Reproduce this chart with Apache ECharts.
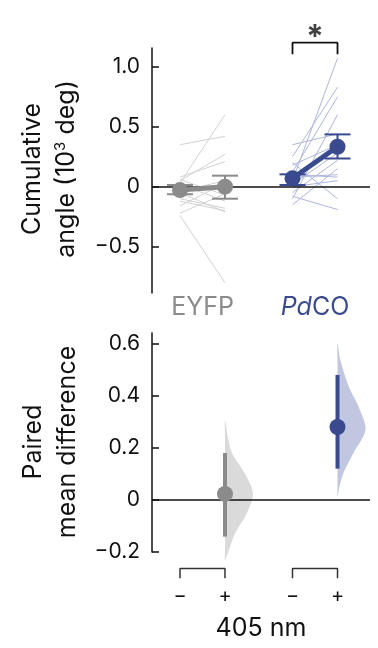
<!DOCTYPE html>
<html><head><meta charset="utf-8">
<script src="https://cdn.jsdelivr.net/npm/echarts@6/dist/echarts.min.js"></script>
<style>html,body{margin:0;padding:0;background:#fff}#c{width:378px;height:648px}</style>
</head><body><div id="c"></div>
<script>
// ---- data ----
const groups = ['EYFP', 'PdCO'];
const conditionLabels = ['\u2212', '+', '\u2212', '+'];
const conditionX = [0, 1, 2.5, 3.5];
const eyfpBefore = [0.35, 0.03, 0.05, 0.08, -0.22, 0.06, -0.04, 0.02, -0.10, -0.16, -0.05, -0.24, -0.12];
const eyfpAfter  = [0.42, 0.60, 0.27, 0.21, -0.06, -0.07, 0.05, -0.12, -0.18, 0.03, -0.21, -0.80, -0.20];
const pdcoBefore = [0.05, 0.25, 0.12, -0.10, 0.35, 0.18, -0.05, 0.02, 0.08, -0.15, 0.00, 0.20, -0.08, 0.10];
const pdcoAfter  = [1.07, 0.83, 0.75, 0.60, 0.44, 0.35, 0.22, 0.28, 0.10, 0.15, 0.05, -0.10, -0.19, 0.08];
const meanValues = [-0.028, 0.000, 0.070, 0.333];
const errLow     = [-0.063, -0.100, 0.014, 0.235];
const errHigh    = [0.014, 0.092, 0.103, 0.436];
const diffMean   = [0.023, 0.280];
const diffLow    = [-0.141, 0.120];
const diffHigh   = [0.180, 0.480];
const eyfpViolinY = [0.308, 0.243, 0.180, 0.103, 0.026, -0.051, -0.128, -0.205, -0.231];
const eyfpViolinD = [0, 0.10, 0.25, 0.70, 1.00, 0.78, 0.36, 0.10, 0];
const pdcoViolinY = [0.603, 0.538, 0.436, 0.359, 0.269, 0.180, 0.103, 0.051, 0.013];
const pdcoViolinD = [0, 0.10, 0.40, 0.75, 1.00, 0.57, 0.21, 0.07, 0];
const topTicks = [-0.5, 0, 0.5, 1.0];
const topTickLabels = ['\u22120.5', '0', '0.5', '1.0'];
const bottomTicks = [-0.2, 0, 0.2, 0.4, 0.6];
const bottomTickLabels = ['\u22120.2', '0', '0.2', '0.4', '0.6'];
const sigStar = '*';

// ---- style ----
const GRAY = '#8b8b8b', NAVY = '#3a4a8e';
const FAINT_GRAY = '#d2d2d2', FAINT_NAVY = '#aeb5db';
const VIOLIN_GRAY = '#dadada', VIOLIN_NAVY = '#c2c7e1';
const FONT = 'Inter';

const chart = echarts.init(document.getElementById('c'), null, {renderer: 'canvas'});

function pairSeries(before, after, x0, x1, color) {
  return {
    type: 'custom', xAxisIndex: 0, yAxisIndex: 0, silent: true, z: 1,
    data: before.map((b, i) => [b, after[i]]),
    renderItem: (params, api) => {
      const p0 = api.coord([x0, api.value(0)]);
      const p1 = api.coord([x1, api.value(1)]);
      return {type: 'line', shape: {x1: p0[0], y1: p0[1], x2: p1[0], y2: p1[1]},
        style: {stroke: color, lineWidth: 1}};
    }
  };
}

function errSeries(idx, color) {
  return {
    type: 'custom', xAxisIndex: 0, yAxisIndex: 0, silent: true, z: 4,
    data: idx.map(i => [conditionX[i], errLow[i], errHigh[i]]),
    renderItem: (params, api) => {
      const lo = api.coord([api.value(0), api.value(1)]);
      const hi = api.coord([api.value(0), api.value(2)]);
      const hw = 13;
      return {type: 'group', children: [
        {type: 'line', shape: {x1: lo[0], y1: lo[1], x2: hi[0], y2: hi[1]}, style: {stroke: color, lineWidth: 2}},
        {type: 'line', shape: {x1: lo[0]-hw, y1: lo[1], x2: lo[0]+hw, y2: lo[1]}, style: {stroke: color, lineWidth: 2}},
        {type: 'line', shape: {x1: hi[0]-hw, y1: hi[1], x2: hi[0]+hw, y2: hi[1]}, style: {stroke: color, lineWidth: 2}}
      ]};
    }
  };
}

function violinSeries(xc, ys, ds, color) {
  return {
    type: 'custom', xAxisIndex: 1, yAxisIndex: 1, silent: true, z: 1,
    data: ys.map((y, i) => [xc, y, ds[i]]),
    renderItem: (params, api) => {
      if (params.dataIndex !== 0) return null;
      const maxW = 28;
      const right = ys.map((y, i) => { const p = api.coord([xc, y]); return [p[0] + ds[i]*maxW, p[1]]; });
      const left = ys.slice().reverse().map(y => api.coord([xc, y]));
      return {type: 'polygon', shape: {points: right.concat(left.slice(1, -1)), smooth: 0.3},
        style: {fill: color}};
    }
  };
}

const zeroLine = {silent: true, symbol: 'none', label: {show: false},
  lineStyle: {color: '#111', width: 1.5, type: 'solid'}, data: [{yAxis: 0}]};

const option = {
  animation: false,
  backgroundColor: '#fff',
  grid: [
    {left: 152, top: 48, width: 218, height: 245},
    {left: 152, top: 333, width: 218, height: 219}
  ],
  xAxis: [
    {gridIndex: 0, type: 'value', min: -0.622, max: 4.222,
      axisLine: {show: false, onZero: false}, axisTick: {show: false}, splitLine: {show: false},
      axisLabel: {customValues: [0.5, 3.0], margin: 2,
        formatter: v => v < 2 ? '{g|' + groups[0] + '}' : '{i|Pd}{n|CO}',
        rich: {g: {color: GRAY, fontSize: 25, fontFamily: FONT},
               i: {color: NAVY, fontSize: 25, fontFamily: FONT, fontStyle: 'italic'},
               n: {color: NAVY, fontSize: 25, fontFamily: FONT}}}},
    {gridIndex: 1, type: 'value', min: -0.622, max: 4.222,
      axisLine: {show: false, onZero: false}, axisTick: {show: false}, splitLine: {show: false},
      axisLabel: {customValues: conditionX, margin: 34, color: '#111', fontSize: 20, fontFamily: FONT,
        formatter: v => conditionLabels[conditionX.indexOf(v)]},
      name: '405 nm', nameLocation: 'middle', nameGap: 64,
      nameTextStyle: {fontSize: 25, fontFamily: FONT, color: '#111'}}
  ],
  yAxis: [
    {gridIndex: 0, type: 'value', min: -0.886, max: 1.156,
      axisLine: {show: true, onZero: false, lineStyle: {color: '#111', width: 1.5}},
      axisTick: {show: true, inside: true, length: 7, customValues: topTicks, lineStyle: {color: '#111', width: 1.5}},
      axisLabel: {customValues: topTicks, margin: 12, color: '#111', fontSize: 21, fontFamily: FONT,
        formatter: v => topTickLabels[topTicks.indexOf(v)]},
      splitLine: {show: false}},
    {gridIndex: 1, type: 'value', min: -0.2, max: 0.641,
      axisLine: {show: true, onZero: false, lineStyle: {color: '#111', width: 1.5}},
      axisTick: {show: true, inside: true, length: 7, customValues: bottomTicks, lineStyle: {color: '#111', width: 1.5}},
      axisLabel: {customValues: bottomTicks, margin: 12, color: '#111', fontSize: 21, fontFamily: FONT,
        formatter: v => bottomTickLabels[bottomTicks.indexOf(v)]},
      splitLine: {show: false}}
  ],
  graphic: [
    {type: 'text', x: 32, y: 169, rotation: Math.PI/2,
      style: {text: 'Cumulative', fontSize: 25, fontFamily: FONT, fill: '#111', align: 'center', verticalAlign: 'middle'}},
    {type: 'text', x: 66, y: 169, rotation: Math.PI/2,
      style: {text: 'angle (10{s|3} deg)', fontSize: 25, fontFamily: FONT, fill: '#111', align: 'center', verticalAlign: 'middle',
        rich: {s: {fontSize: 15, fontFamily: FONT, fill: '#111', verticalAlign: 'top', padding: [0,0,12,0]}}}},
    {type: 'text', x: 33, y: 442, rotation: Math.PI/2,
      style: {text: 'Paired', fontSize: 25, fontFamily: FONT, fill: '#111', align: 'center', verticalAlign: 'middle'}},
    {type: 'text', x: 67, y: 442, rotation: Math.PI/2,
      style: {text: 'mean difference', fontSize: 25, fontFamily: FONT, fill: '#111', align: 'center', verticalAlign: 'middle'}}
  ],
  series: [
    pairSeries(eyfpBefore, eyfpAfter, conditionX[0], conditionX[1], FAINT_GRAY),
    pairSeries(pdcoBefore, pdcoAfter, conditionX[2], conditionX[3], FAINT_NAVY),
    {type: 'line', xAxisIndex: 0, yAxisIndex: 0, silent: true, z: 2, symbol: 'none',
      data: [], markLine: zeroLine},
    errSeries([0, 1], GRAY),
    errSeries([2, 3], NAVY),
    {type: 'line', xAxisIndex: 0, yAxisIndex: 0, silent: true, z: 5,
      data: [[conditionX[0], meanValues[0]], [conditionX[1], meanValues[1]]],
      symbol: 'circle', symbolSize: 16, itemStyle: {color: GRAY}, lineStyle: {color: GRAY, width: 5}},
    {type: 'line', xAxisIndex: 0, yAxisIndex: 0, silent: true, z: 5,
      data: [[conditionX[2], meanValues[2]], [conditionX[3], meanValues[3]]],
      symbol: 'circle', symbolSize: 16, itemStyle: {color: NAVY}, lineStyle: {color: NAVY, width: 5}},
    // significance bracket
    {type: 'line', xAxisIndex: 0, yAxisIndex: 0, silent: true, clip: false, symbol: 'none', z: 5,
      data: [[conditionX[2], 1.103], [conditionX[2], 1.200], [conditionX[3], 1.200], [conditionX[3], 1.103]],
      lineStyle: {color: '#111', width: 1.8}},
    {type: 'scatter', xAxisIndex: 0, yAxisIndex: 0, silent: true, clip: false, symbolSize: 1, z: 5,
      itemStyle: {color: 'rgba(0,0,0,0)'},
      data: [[(conditionX[2] + conditionX[3]) / 2, 1.24]],
      label: {show: true, position: 'inside', formatter: sigStar, fontSize: 32, fontFamily: FONT, color: '#111', fontWeight: 'bold'}},
    // bottom panel
    violinSeries(conditionX[1], eyfpViolinY, eyfpViolinD, VIOLIN_GRAY),
    violinSeries(conditionX[3], pdcoViolinY, pdcoViolinD, VIOLIN_NAVY),
    {type: 'line', xAxisIndex: 1, yAxisIndex: 1, silent: true, z: 2, symbol: 'none',
      data: [], markLine: zeroLine},
    {type: 'line', xAxisIndex: 1, yAxisIndex: 1, silent: true, z: 4, symbol: 'none',
      data: [[conditionX[1], diffLow[0]], [conditionX[1], diffHigh[0]]], lineStyle: {color: GRAY, width: 4}},
    {type: 'line', xAxisIndex: 1, yAxisIndex: 1, silent: true, z: 4, symbol: 'none',
      data: [[conditionX[3], diffLow[1]], [conditionX[3], diffHigh[1]]], lineStyle: {color: NAVY, width: 4}},
    {type: 'scatter', xAxisIndex: 1, yAxisIndex: 1, silent: true, z: 5, symbolSize: 16,
      itemStyle: {opacity: 1},
      data: [{value: [conditionX[1], diffMean[0]], itemStyle: {color: GRAY}},
             {value: [conditionX[3], diffMean[1]], itemStyle: {color: NAVY}}]},
    // pairing brackets under bottom panel
    {type: 'line', xAxisIndex: 1, yAxisIndex: 1, silent: true, clip: false, symbol: 'none',
      data: [[conditionX[0], -0.301], [conditionX[0], -0.263], [conditionX[1], -0.263], [conditionX[1], -0.301]],
      lineStyle: {color: '#333', width: 1.5}},
    {type: 'line', xAxisIndex: 1, yAxisIndex: 1, silent: true, clip: false, symbol: 'none',
      data: [[conditionX[2], -0.301], [conditionX[2], -0.263], [conditionX[3], -0.263], [conditionX[3], -0.301]],
      lineStyle: {color: '#333', width: 1.5}}
  ]
};
chart.setOption(option);
</script>
</body></html>
